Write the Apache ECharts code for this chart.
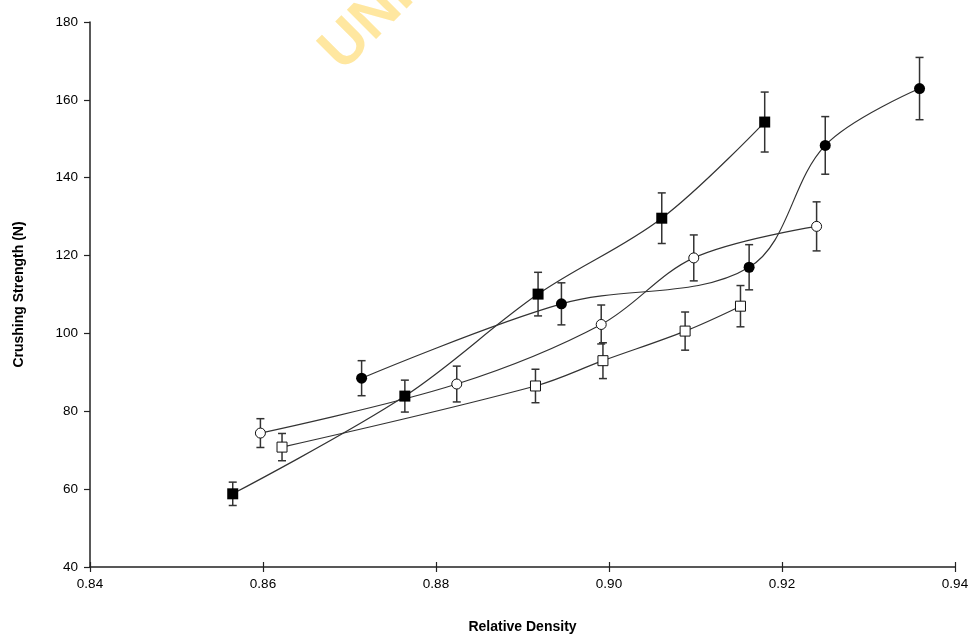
<!DOCTYPE html>
<html><head><meta charset="utf-8">
<script src="https://cdn.jsdelivr.net/npm/echarts@6/dist/echarts.min.js"></script>
<style>html,body{margin:0;padding:0;background:#fff}#c{width:968px;height:636px}</style>
</head><body><div id="c"></div>
<script>
// Series: filled squares
const xA = [0.8565, 0.8764, 0.8918, 0.9061, 0.9180];
const yA = [58.8, 83.9, 110.1, 129.6, 154.3];
const eA = [3.0, 4.1, 5.6, 6.5, 7.7];
// Series: filled circles
const xB = [0.8714, 0.8945, 0.9162, 0.9250, 0.9359];
const yB = [88.5, 107.6, 117.0, 148.3, 162.9];
const eB = [4.5, 5.4, 5.8, 7.4, 8.0];
// Series: open circles
const xC = [0.8597, 0.8824, 0.8991, 0.9098, 0.9240];
const yC = [74.4, 87.0, 102.3, 119.4, 127.5];
const eC = [3.7, 4.6, 5.0, 5.9, 6.3];
// Series: open squares
const xD = [0.8622, 0.8915, 0.8993, 0.9088, 0.9152];
const yD = [70.8, 86.5, 93.0, 100.6, 107.0];
const eD = [3.5, 4.3, 4.6, 4.9, 5.3];

const xTicks = [0.84, 0.86, 0.88, 0.90, 0.92, 0.94];
const yTicks = [40, 60, 80, 100, 120, 140, 160, 180];

const LINE = '#333';
function pts(xs, ys){ return xs.map((x,i)=>[x, ys[i]]); }
function errData(xs, ys, es){ return xs.map((x,i)=>[x, ys[i]-es[i], ys[i]+es[i]]); }

function errSeries(xs, ys, es){
  return {
    type:'custom', z:3, silent:true,
    data: errData(xs, ys, es),
    renderItem: function(params, api){
      const lo = api.coord([api.value(0), api.value(1)]);
      const hi = api.coord([api.value(0), api.value(2)]);
      const w = 4;
      const st = {stroke: LINE, lineWidth: 1.5};
      return {type:'group', children:[
        {type:'line', shape:{x1:lo[0], y1:lo[1], x2:hi[0], y2:hi[1]}, style:st},
        {type:'line', shape:{x1:lo[0]-w, y1:lo[1], x2:lo[0]+w, y2:lo[1]}, style:st},
        {type:'line', shape:{x1:hi[0]-w, y1:hi[1], x2:hi[0]+w, y2:hi[1]}, style:st}
      ]};
    }
  };
}
function lineSeries(xs, ys, symbol, filled, size){
  return {
    type:'line', z:4, smooth:0.35, data: pts(xs, ys),
    symbol: symbol, symbolSize: size, showSymbol:true,
    lineStyle:{color:LINE, width:1.2},
    itemStyle: filled ? {color:'#000', borderColor:'#000', borderWidth:0}
                      : {color:'#fff', borderColor:'#111', borderWidth:1},
    emphasis:{disabled:true}
  };
}

const chart = echarts.init(document.getElementById('c'), null, {renderer:'canvas'});
const tickFont = {fontFamily:'Liberation Sans, Arial, sans-serif', fontSize:13.5, color:'#000'};
chart.setOption({
  animation:false,
  backgroundColor:'#fff',
  grid:{left:90, right:13, top:22, bottom:69, containLabel:false, outerBoundsMode:'none'},
  graphic:[{
    type:'text', x:352, y:82, rotation:Math.PI/4, z:0, silent:true,
    style:{text:'UNIVERSITY OF IBADAN', fill:'#FFE7A0', font:'bold 60px "Liberation Sans", Arial, sans-serif', textAlign:'left', textVerticalAlign:'bottom'}
  }],
  xAxis:[{
    type:'value', min:0.84, max:0.94, interval:0.02,
    name:'Relative Density', nameLocation:'middle', nameGap:53,
    nameTextStyle:{fontFamily:'Liberation Sans, Arial, sans-serif', fontSize:14, fontWeight:'bold', color:'#000'},
    axisLine:{show:true, onZero:false, lineStyle:{color:'#222', width:1.5}},
    axisTick:{show:true, inside:false, length:5, lineStyle:{color:'#222', width:1.2}},
    axisLabel:Object.assign({margin:10, formatter:v=>v.toFixed(2)}, tickFont),
    splitLine:{show:false}
  },{
    type:'value', min:0.84, max:0.94, interval:0.02, position:'bottom',
    axisLine:{show:false}, axisLabel:{show:false}, splitLine:{show:false},
    axisTick:{show:true, inside:true, length:5, lineStyle:{color:'#222', width:1.2}}
  }],
  yAxis:{
    type:'value', min:40, max:180, interval:20,
    name:'Crushing Strength (N)', nameLocation:'middle', nameGap:64, nameRotate:90,
    nameTextStyle:{fontFamily:'Liberation Sans, Arial, sans-serif', fontSize:14, fontWeight:'bold', color:'#000'},
    axisLine:{show:true, onZero:false, lineStyle:{color:'#222', width:1.5}},
    axisTick:{show:true, inside:false, length:6, lineStyle:{color:'#222', width:1.2}},
    axisLabel:Object.assign({margin:12}, tickFont),
    splitLine:{show:false}
  },
  series:[
    errSeries(xA, yA, eA), errSeries(xB, yB, eB), errSeries(xC, yC, eC), errSeries(xD, yD, eD),
    lineSeries(xA, yA, 'rect', true, 11),
    lineSeries(xB, yB, 'circle', true, 11),
    lineSeries(xC, yC, 'circle', false, 10),
    lineSeries(xD, yD, 'rect', false, 10)
  ]
});
</script>
</body></html>
